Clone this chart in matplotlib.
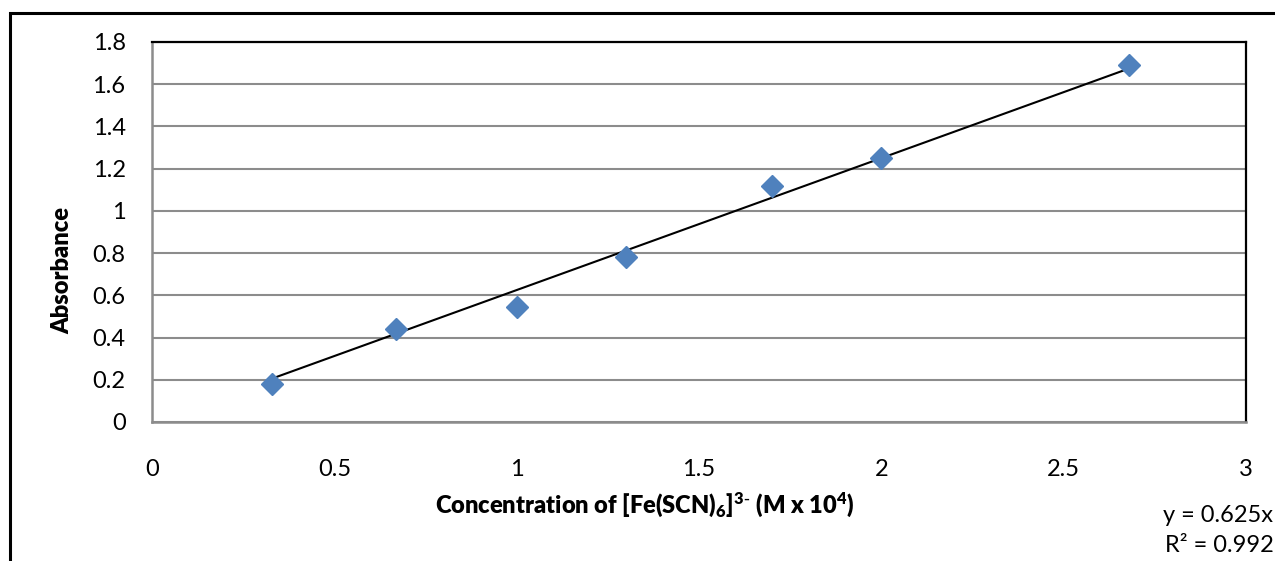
import numpy as np
import matplotlib
matplotlib.use("Agg")
import matplotlib.pyplot as plt
from matplotlib.patches import Rectangle


# DATA
conc = [0.33, 0.67, 1.0, 1.3, 1.7, 2.0, 2.68]
absorbance = [0.18, 0.44, 0.545, 0.78, 1.12, 1.25, 1.69]
slope = 0.625
x_ticks = [0, 0.5, 1, 1.5, 2, 2.5, 3]
x_tick_labels = ["0", "0.5", "1", "1.5", "2", "2.5", "3"]
y_ticks = [0, 0.2, 0.4, 0.6, 0.8, 1.0, 1.2, 1.4, 1.6, 1.8]
y_tick_labels = ["0", "0.2", "0.4", "0.6", "0.8", "1", "1.2", "1.4", "1.6", "1.8"]


# STYLE
plt.rcParams['font.family'] = ['Lato', 'DejaVu Sans']
plt.rcParams['mathtext.fontset'] = 'custom'
plt.rcParams['mathtext.default'] = 'regular'
fs = 17


fig = plt.figure(figsize=(12.75, 5.61), dpi=100)

# outer chart border (cropped on right and bottom)
W, H = 1275, 561
fig.add_artist(Rectangle((10 / W, -0.1), 1.2, 1 - 13 / 561 + 0.1,
                         transform=fig.transFigure, fill=False,
                         edgecolor="black", linewidth=2.2))

ax = fig.add_axes([152 / W, 1 - 422 / H, (1246 - 152) / W, (422 - 42) / H])

# gridlines
ax.set_axisbelow(True)
ax.yaxis.grid(True, color="#8c8c8c", linewidth=1.5)

# trendline
xs = np.array([min(conc), max(conc)])
ax.plot(xs, slope * xs, color="black", linewidth=1.5, zorder=2)

# points
ax.plot(conc, absorbance, linestyle="none", marker="D", markersize=11,
        color="#4F81BD", markeredgecolor="#4F81BD", zorder=3)

ax.set_xlim(0, 3)
ax.set_ylim(0, 1.8)
ax.set_xticks(x_ticks)
ax.set_xticklabels(x_tick_labels)
ax.set_yticks(y_ticks)
ax.set_yticklabels(y_tick_labels)
ax.tick_params(axis="y", length=0, pad=19, labelsize=fs)
ax.tick_params(axis="x", length=0, pad=27, labelsize=fs)

for side in ["left", "bottom"]:
    ax.spines[side].set_color("#8c8c8c")
    ax.spines[side].set_linewidth(1.8)
for side in ["top", "right"]:
    ax.spines[side].set_color("black")
    ax.spines[side].set_linewidth(1.6)

ax.set_ylabel("Absorbance", fontsize=fs, fontweight="heavy")
ax.yaxis.set_label_coords((62 - 152) / (1246 - 152), (422 - 270) / (422 - 42))
ax.set_xlabel(r"Concentration of [Fe(SCN)$_6$]$^{3\text{-}}$ (M x 10$^4$)",
              fontsize=fs, fontweight="heavy")
ax.xaxis.set_label_coords((645 - 152) / (1246 - 152), (422 - 505) / (422 - 42))
ax.xaxis.label.set_va("center")
ax.yaxis.label.set_va("center")

# trendline equation
fig.text(1163 / W, 1 - 515 / H, "y = 0.625x", fontsize=fs, va="center", ha="left")
fig.text(1165 / W, 1 - 546 / H, "R² = 0.992", fontsize=fs, va="center", ha="left")

plt.savefig("out.png", dpi=100)
